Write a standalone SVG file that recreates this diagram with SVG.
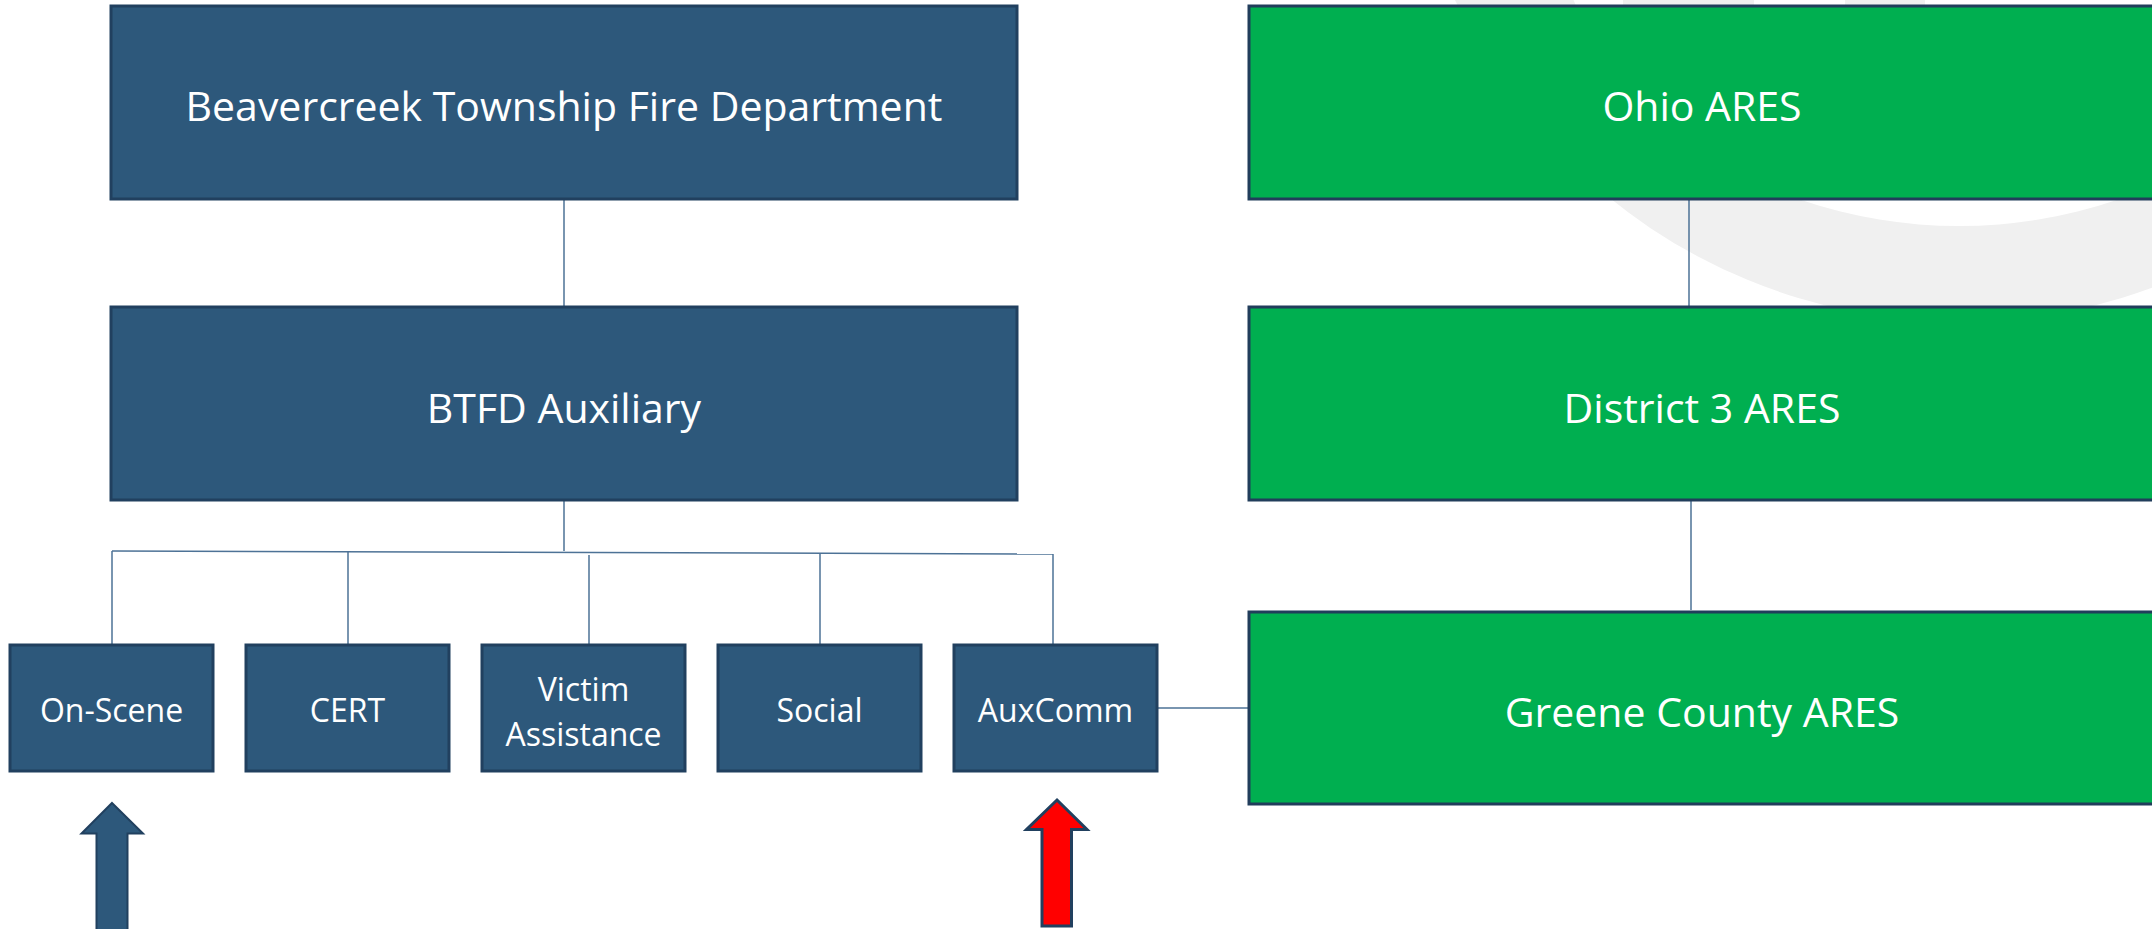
<svg xmlns="http://www.w3.org/2000/svg" width="2152" height="929" viewBox="0 0 2152 929">
  <style>
    .blue { fill: #2d587b; stroke: #21405f; stroke-width: 3; }
    .green { fill: #00af50; stroke: #213d5b; stroke-width: 3; }
    .big { font-family: "Open Sans", "Liberation Sans", sans-serif; font-size: 41px; fill: #ffffff; text-anchor: middle; }
    .small { font-family: "Open Sans", "Liberation Sans", sans-serif; font-size: 32px; fill: #ffffff; text-anchor: middle; }
    .conn { stroke: #4d7296; stroke-width: 1.5; fill: none; }
  </style>
  <rect width="2152" height="929" fill="#ffffff"/>
  <!-- watermark -->
  <g id="watermark" fill="#f0f0f0">
    <path fill-rule="evenodd" d="M 1403 -235 A 557 557 0 1 0 2517 -235 A 557 557 0 1 0 1403 -235 Z M 1551 -110 A 408 336 0 1 0 2367 -110 A 408 336 0 1 0 1551 -110 Z"/>
    <rect x="1623" y="0" width="131" height="7"/>
    <rect x="1845" y="0" width="80" height="7"/>
  </g>
  <g id="connectors">
    <line class="conn" x1="564" y1="199" x2="564" y2="307"/>
    <line class="conn" x1="564" y1="500" x2="564" y2="551"/>
    <line class="conn" x1="112" y1="551" x2="1053" y2="554"/>
    <line class="conn" x1="112" y1="551" x2="112" y2="645"/>
    <line class="conn" x1="348" y1="551" x2="348" y2="645"/>
    <line class="conn" x1="589" y1="555" x2="589" y2="645"/>
    <line class="conn" x1="820" y1="553" x2="820" y2="645"/>
    <line class="conn" x1="1053" y1="554" x2="1053" y2="645"/>
    <line class="conn" x1="1158" y1="708" x2="1249" y2="708"/>
    <line class="conn" x1="1689" y1="199" x2="1689" y2="307"/>
    <line class="conn" x1="1691" y1="500" x2="1691" y2="610"/>
  </g>
  <g id="btfd">
    <rect class="blue" x="111" y="6" width="906" height="193"/>
    <text class="big" x="564" y="121">Beavercreek Township Fire Department</text>
  </g>
  <g id="btfd-aux">
    <rect class="blue" x="111" y="307" width="906" height="193"/>
    <text class="big" x="564" y="423">BTFD Auxiliary</text>
  </g>
  <g id="ohio-ares">
    <rect class="green" x="1249" y="6" width="906" height="193"/>
    <text class="big" x="1702" y="121">Ohio ARES</text>
  </g>
  <g id="district3-ares">
    <rect class="green" x="1249" y="307" width="906" height="193"/>
    <text class="big" x="1702" y="423">District 3 ARES</text>
  </g>
  <g id="greene-ares">
    <rect class="green" x="1249" y="612" width="906" height="192"/>
    <text class="big" x="1702" y="727">Greene County ARES</text>
  </g>
  <g id="on-scene">
    <rect class="blue" x="10" y="645" width="203" height="126"/>
    <text class="small" x="111.5" y="722">On-Scene</text>
  </g>
  <g id="cert">
    <rect class="blue" x="246" y="645" width="203" height="126"/>
    <text class="small" x="347.5" y="722">CERT</text>
  </g>
  <g id="victim-assistance">
    <rect class="blue" x="482" y="645" width="203" height="126"/>
    <text class="small" x="583.5" y="701">Victim</text>
    <text class="small" x="583.5" y="746">Assistance</text>
  </g>
  <g id="social">
    <rect class="blue" x="718" y="645" width="203" height="126"/>
    <text class="small" x="819.5" y="722">Social</text>
  </g>
  <g id="auxcomm">
    <rect class="blue" x="954" y="645" width="203" height="126"/>
    <text class="small" x="1055.5" y="722">AuxComm</text>
  </g>
  <g id="arrow-blue">
    <path d="M 112 803 L 143 833.5 L 127.5 833.5 L 127.5 932 L 96.5 932 L 96.5 833.5 L 81.5 833.5 Z" fill="#2d587b" stroke="#21405f" stroke-width="2"/>
  </g>
  <g id="arrow-red">
    <path d="M 1057 800 L 1087 829.5 L 1071.5 829.5 L 1071.5 926 L 1042 926 L 1042 829.5 L 1026.5 829.5 Z" fill="#ff0000" stroke="#21405f" stroke-width="3"/>
  </g>
</svg>
